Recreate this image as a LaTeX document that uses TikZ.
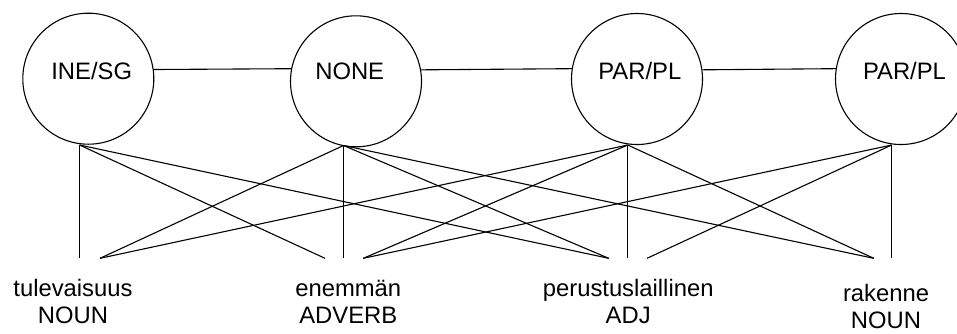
\documentclass[tikz,border=0pt]{standalone}
\usepackage{fontspec}
\setmainfont{Liberation Sans}
\begin{document}
\begin{tikzpicture}[x=0.5pt,y=-0.5pt,
  every node/.style={font=\fontsize{11.9}{13.35}\selectfont},
  state/.style={draw,circle,line width=0.55pt,minimum size=65.5pt,inner sep=0pt},
  tag/.style={anchor=base,inner sep=0pt},
  word/.style={anchor=base,inner sep=0pt,align=center},
  link/.style={line width=0.55pt}]
\useasboundingbox (0,0) rectangle (957,333);
\clip (0,0) rectangle (957,333);

% hidden states
\node[state] (c1) at (88.3,78.7) {};
\node[state] (c2) at (356,81.3) {};
\node[state] (c3) at (637,79) {};
\node[state] (c4) at (901,79) {};
\node[tag] (t1) at (91.7,79) {INE/SG};
\node[tag] (t2) at (349.7,79) {NONE};
\node[tag] (t3) at (639.8,79) {PAR/PL};
\node[tag] (t4) at (904.5,79) {PAR/PL};

% chain between states
\draw[link] (c1.8.5) -- (c2.169.4);
\draw[link] (c2.10.6) -- (c3.171.5);
\draw[link] (c3.8.5) -- (c4.171.5);

% observed words (base anchor sits on the second line)
\node[word] (w1) at (73,323.3) {tulevaisuus\\NOUN};
\node[word] (w2) at (348.3,323.3) {enemmän\\ADVERB};
\node[word] (w3) at (628.2,323.3) {perustuslaillinen\\ADJ};
\node[word] (w4) at (886,328.3) {rakenne\\NOUN};

% emission points under the states
\coordinate (o1) at (79.5,145);
\coordinate (o2) at (343.5,145.5);
\coordinate (o3) at (627.7,145);
\coordinate (o4) at (891.7,145);

% entry points above the words
\coordinate (m1) at (79.5,258.3);
\coordinate (r1) at (100,258.3);
\coordinate (l2) at (325,258.3);
\coordinate (m2) at (343.5,258.3);
\coordinate (r2) at (363.3,258.3);
\coordinate (l3) at (608.7,258.3);
\coordinate (m3) at (627.7,258.3);
\coordinate (r3) at (647,258.3);
\coordinate (l4) at (873.7,258.3);
\coordinate (m4) at (891.7,258.3);

% emissions
\draw[link] (o1) -- (m1);
\draw[link] (o1) -- (l2);
\draw[link] (o1) -- (l3);
\draw[link] (o2) -- (r1);
\draw[link] (o2) -- (m2);
\draw[link] (o2) -- (l3);
\draw[link] (o2) -- (l4);
\draw[link] (o3) -- (r1);
\draw[link] (o3) -- (r2);
\draw[link] (o3) -- (m3);
\draw[link] (o3) -- (l4);
\draw[link] (o4) -- (r2);
\draw[link] (o4) -- (r3);
\draw[link] (o4) -- (m4);
\end{tikzpicture}
\end{document}
